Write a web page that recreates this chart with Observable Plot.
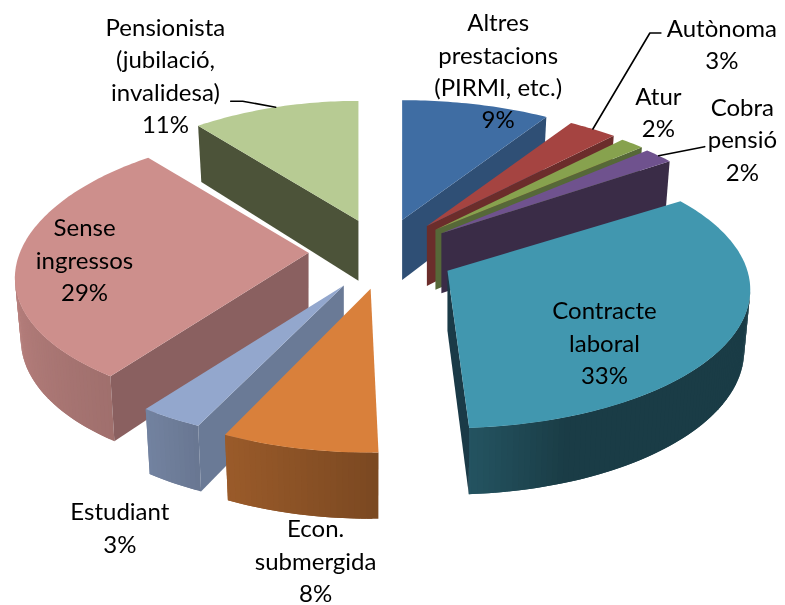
<!DOCTYPE html>
<html>
<head>
<meta charset="utf-8">
<script src="https://cdn.jsdelivr.net/npm/d3@7"></script>
<script src="https://cdn.jsdelivr.net/npm/@observablehq/plot@0.6"></script>
<style>
html,body{margin:0;padding:0;background:#fff}
svg{display:block;filter:blur(0.4px)}
</style>
</head>
<body>
<div id="chart"></div>
<script>
// data
const categories = ["Altres\nprestacions\n(PIRMI, etc.)", "Autònoma", "Atur", "Cobra\npensió", "Contracte\nlaboral", "Econ.\nsubmergida", "Estudiant", "Sense\ningressos", "Pensionista\n(jubilació,\ninvalidesa)"];
const values = [9, 3, 2, 2, 33, 8, 3, 29, 11];

// styles
const topColors = ["#3f6da3", "#a54441", "#87a24e", "#6f528e", "#4197af", "#d9803b", "#93a7cd", "#cd8f8c", "#b7cb93"];
const cutColors = ["#2f4f75", "#6b2d2b", "#566838", "#3a2c47", "#1a3a47", "#744720", "#6a7a96", "#8a6060", "#4c5339"];
const drawOrder = [8, 0, 1, 2, 3, 7, 6, 4, 5];

// layout: label offset from each slice's apex; leader bend points from its rim midpoint
const labelOffsets = [[96,-148],[295,-181],[223,-117],[301,-93],[157,73],[-55,273],[-224,243],[-224,8],[-193,-144]];
const leaderBends = {1: [[57,-96],[68,-96]], 3: [[46,-9]], 8: [[-33,-6],[-45,-6]]};
// small perspective corrections per slice: rim angle shifts in degrees, apex shifts, vertical stretch
const angleNudge = [[0,0],[0,0],[0,-1.8],[-2,-2.5],[-1,0],[2.3,0],[0,0],[0,0],[0,0]];
const apexNudge = [[0,0],[0,0],[0,0],[0,0],[0,0],[3,-1],[0,0],[1,-3],[2,0]];
const stretchY = [1,1,1,1,1,1.04,1,1,1];

// projection of the tilted disc
const cx = 381, cy = 254, exX = 74, exY = 36, rx = 300, ry = 136, k = 0.136, depth = 60, baseScale = 0.98;
const wallShade = d3.scaleLinear().domain([90,160,176,205,216,270]).range([0.4,0.4,0.55,0.71,0.78,0.92]).clamp(true);

const deg = r => r * 180 / Math.PI, rad = d => d * Math.PI / 180;
function rel(t, i) {
  const X = Math.sin(t), Y = -Math.cos(t), s = 1 / (1 - k * Y);
  const sx = X < 0 ? rx - 14 * Math.max(0, 0.81 - Y) : rx;
  return {x: sx * X * s, y: ry * Y * s * stretchY[i], s};
}
const arcs = d3.pie().sort(null)(values);
function apexOf(i) {
  const a = arcs[i], m = (a.startAngle + a.endAngle) / 2;
  return {x: cx + exX * Math.sin(m) + apexNudge[i][0], y: cy - exY * Math.cos(m) + apexNudge[i][1]};
}
const rimPt = (ap, t, i) => { const r = rel(t, i); return {x: ap.x + r.x, y: ap.y + r.y}; };
const basePt = (ap, t, i) => { const r = rel(t, i); return {x: ap.x + baseScale * r.x, y: ap.y + baseScale * r.y + depth * r.s}; };
function shade(c, f) { const q = d3.rgb(c); return d3.rgb(q.r * f, q.g * f, q.b * f).formatHex(); }
const angles = i => [arcs[i].startAngle + rad(angleNudge[i][0]), arcs[i].endAngle + rad(angleNudge[i][1])];

const polys = [];
let pid = 0;
function poly(pts, color) { const id = pid++; pts.forEach(p => polys.push({x: p.x, y: p.y, id, color})); }

const step = rad(1);
for (const i of drawOrder) {
  const ap = apexOf(i), [a0, a1] = angles(i);
  const baseApex = {x: ap.x, y: ap.y + depth};
  // outer wall: overlapping strips, later ones on top, to hide seams
  const w0 = Math.max(a0, rad(98)), w1 = Math.min(a1, rad(262));
  for (let t = w0; t < w1; t += step) {
    const t2 = Math.min(t + 2 * step, w1);
    poly([rimPt(ap, t, i), rimPt(ap, t2, i), basePt(ap, t2, i), basePt(ap, t, i)], shade(topColors[i], wallShade(deg(t + step / 2))));
  }
  // visible cut face
  const cuts = [];
  if (deg(a1) < 180) cuts.push(a1);
  if (deg(a0) >= 180) cuts.push(a0);
  for (const t of cuts) poly([ap, rimPt(ap, t, i), basePt(ap, t, i), baseApex], cutColors[i]);
  // top face
  const pts = [ap];
  for (let t = a0; t < a1; t += step) pts.push(rimPt(ap, t, i));
  pts.push(rimPt(ap, a1, i));
  poly(pts, topColors[i]);
}

const labels = categories.map((c, i) => {
  const ap = apexOf(i);
  return {text: `${c}\n${values[i]}%`, x: ap.x + labelOffsets[i][0], y: ap.y + labelOffsets[i][1]};
});
const leaders = [];
for (const key of Object.keys(leaderBends)) {
  const i = +key, ap = apexOf(i), [a0, a1] = angles(i);
  const start = rimPt(ap, (a0 + a1) / 2, i);
  leaders.push({x: start.x, y: start.y, id: i});
  for (const [dx, dy] of leaderBends[i]) leaders.push({x: start.x + dx, y: start.y + dy, id: i});
}

const chart = Plot.plot({
  width: 785, height: 605, margin: 0,
  style: {background: "#fff"},
  x: {domain: [0, 785], range: [0, 785], axis: null},
  y: {domain: [0, 605], range: [0, 605], axis: null},
  color: {type: "identity"},
  marks: [
    Plot.line(polys, {x: "x", y: "y", z: "id", fill: "color", stroke: null}),
    Plot.line(leaders, {x: "x", y: "y", z: "id", stroke: "#000", strokeWidth: 1.6}),
    Plot.text(labels, {x: "x", y: "y", text: "text", dy: -2.5, fontFamily: "Lato", fontSize: 24, lineHeight: 1.35, fill: "#000", textAnchor: "middle"})
  ]
});
document.getElementById("chart").appendChild(chart);
</script>
</body>
</html>
